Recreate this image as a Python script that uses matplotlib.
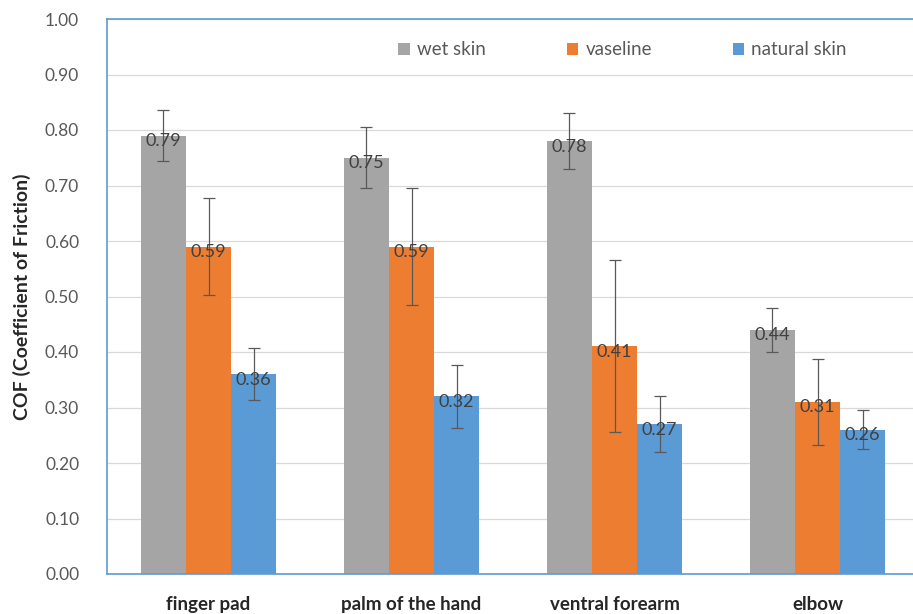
import matplotlib
matplotlib.use("Agg")
import matplotlib.pyplot as plt
import numpy as np

categories = ["finger pad", "palm of the hand", "ventral forearm", "elbow"]
series_names = ["wet skin", "vaseline", "natural skin"]
wet_skin = [0.79, 0.75, 0.78, 0.44]
vaseline = [0.59, 0.59, 0.41, 0.31]
natural_skin = [0.36, 0.32, 0.27, 0.26]
wet_err = [0.046, 0.055, 0.05, 0.04]
vas_err = [0.088, 0.105, 0.155, 0.078]
nat_err = [0.047, 0.057, 0.05, 0.035]
yticks = [0.0, 0.1, 0.2, 0.3, 0.4, 0.5, 0.6, 0.7, 0.8, 0.9, 1.0]

colors = ["#A5A5A5", "#ED7D31", "#5B9BD5"]
plt.rcParams['font.family'] = ['Lato', 'DejaVu Sans']

fig = plt.figure(figsize=(9.13, 6.14), dpi=100)
ax = fig.add_axes([107/913, 1-574/614, 812/913, 555/614])

x = np.arange(len(categories))
w = 0.222
data = [wet_skin, vaseline, natural_skin]
errs = [wet_err, vas_err, nat_err]
for i, (vals, er, c, name) in enumerate(zip(data, errs, colors, series_names)):
    pos = x + (i - 1) * w
    ax.bar(pos, vals, width=w, color=c, label=name, zorder=2)
    ax.errorbar(pos, vals, yerr=er, fmt='none', ecolor='#595959', elinewidth=0.9,
                capsize=4, capthick=0.9, zorder=3)
    for p, v in zip(pos, vals):
        ax.text(p, v - 0.01, f"{v:.2f}", ha='center', va='center', fontsize=13,
                color='#404040', zorder=4)

ax.set_xlim(-0.5, 3.5)
ax.set_ylim(0, 1.0)
ax.set_yticks(yticks)
ax.set_yticklabels([f"{t:.2f}" for t in yticks], fontsize=12.5, color='#595959')
ax.set_xticks(x)
ax.set_xticklabels(categories, fontsize=13.5, fontweight='bold', color='#262626')
ax.tick_params(axis='both', length=0)
ax.tick_params(axis='y', pad=20)
ax.tick_params(axis='x', pad=16)
ax.yaxis.grid(True, color='#D9D9D9', linewidth=0.9, zorder=0)
ax.set_axisbelow(True)
for s in ax.spines.values():
    s.set_color('#5B9BD5')
    s.set_linewidth(1.2)

ax.set_ylabel("COF (Coefficient of Friction)", fontsize=14, fontweight='bold',
              color='#262626', labelpad=10)

leg = ax.legend(loc='upper center', bbox_to_anchor=(0.635, 0.99), ncol=3, frameon=False,
                fontsize=13.5, handlelength=0.6, handleheight=0.6, handletextpad=0.4,
                columnspacing=4.3, labelcolor='#595959')

fig.savefig("out.png", dpi=100)
